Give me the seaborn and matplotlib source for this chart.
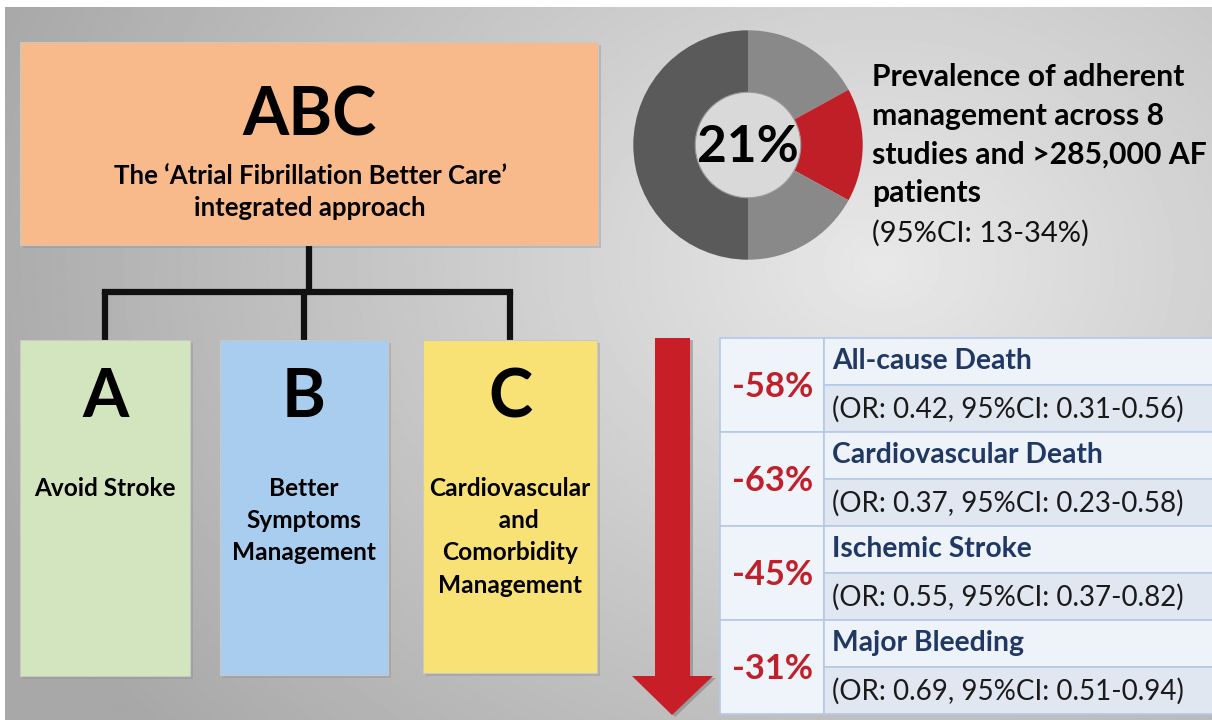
import numpy as np
import matplotlib.pyplot as plt
import matplotlib.patches as mpatches
import seaborn as sns

# ---- data ----
title_main = "ABC"
title_sub = ["The \u2018Atrial Fibrillation Better Care\u2019", "integrated approach"]

pillar_letters = ["A", "B", "C"]
pillar_texts = [["Avoid Stroke"],
                ["Better", "Symptoms", "Management"],
                ["Cardiovascular", "   and", "Comorbidity", "Management"]]
pillar_colors = ["#d3e5bf", "#a9cdee", "#f8e275"]

# donut segments clockwise from 12 o'clock (share of the ring as drawn)
donut_shares = [17, 16, 17, 50]
donut_colors = ["#898989", "#c01f27", "#898989", "#5a5a5a"]
adherent_pct = 21
prevalence_lines = ["Prevalence of adherent", "management across 8",
                    "studies and >285,000 AF", "patients"]
prevalence_ci = "(95%CI: 13-34%)"

outcomes = ["All-cause Death", "Cardiovascular Death", "Ischemic Stroke", "Major Bleeding"]
reductions = [-58, -63, -45, -31]
odds_ratio = [0.42, 0.37, 0.55, 0.69]
ci_low = [0.31, 0.23, 0.37, 0.51]
ci_high = [0.56, 0.58, 0.82, 0.94]

sns.set_theme(style="white")
plt.rcParams['font.family'] = ['Lato', 'DejaVu Sans']

W, H = 1212, 720
fig = plt.figure(figsize=(W / 100, H / 100), dpi=100, facecolor="white")
ax = fig.add_axes([0, 0, 1, 1])
ax.set_xlim(0, W)
ax.set_ylim(H, 0)
ax.axis("off")

# gray radial background
yy, xx = np.mgrid[0:H, 0:W]
d = np.sqrt(((xx - 880) / 900.0) ** 2 + ((yy - 260) / 700.0) ** 2)
shade = np.clip(0.91 - 0.24 * d, 0.66, 0.91)
ax.imshow(shade, cmap="gray", vmin=0, vmax=1, extent=(5, W, H, 7),
          aspect="auto", zorder=0, interpolation="bilinear")


def box(x, y, w, h, color, z=2):
    ax.add_patch(mpatches.Rectangle((x + 3, y + 3), w, h, facecolor="#8a8a8a",
                                    alpha=0.35, edgecolor="none", zorder=z - 1))
    ax.add_patch(mpatches.Rectangle((x, y), w, h, facecolor=color,
                                    edgecolor="#c8c8c8", lw=0.8, zorder=z))


# top ABC box
box(20, 42, 578, 203, "#f8b98b")
ax.text(309, 116, title_main, ha="center", va="center", fontsize=48,
        fontweight="bold", color="black", zorder=3)
for k, line in enumerate(title_sub):
    ax.text(310, 176 + k * 32, line, ha="center", va="center", fontsize=18.5,
            fontweight="bold", color="black", zorder=3)

# connectors
pillar_x = [20, 220, 423]
pillar_w = [170, 168, 174]
pillar_h = [336, 335, 333]
centers = [x + w / 2 for x, w in zip(pillar_x, pillar_w)]
lw = 4.5
ax.plot([309, 309], [245, 292], color="#111111", lw=lw, zorder=1.5)
ax.plot([centers[0], centers[2]], [292, 292], color="#111111", lw=lw,
        solid_capstyle="projecting", zorder=1.5)
for cx in centers:
    ax.plot([cx, cx], [292, 340], color="#111111", lw=lw, zorder=1.5)

# pillars
for x, w, h, c, letter, lines in zip(pillar_x, pillar_w, pillar_h, pillar_colors,
                                     pillar_letters, pillar_texts):
    box(x, 340, w, h, c)
    ax.text(x + w / 2, 398, letter, ha="center", va="center", fontsize=48,
            fontweight="bold", color="black", zorder=3)
    for k, line in enumerate(lines):
        ax.text(x + w / 2, 488 + k * 32.5, line, ha="center", va="center",
                fontsize=17.6, fontweight="bold", color="black", zorder=3)

# donut
dax = fig.add_axes([631 / W, 1 - 262 / H, 234 / W, 234 / H])
dax.pie(donut_shares, colors=donut_colors, startangle=90, counterclock=False,
        radius=1, wedgeprops=dict(width=0.55, edgecolor="none"))
dax.add_patch(mpatches.Circle((0, 0), 0.46, facecolor="#d9d9d9",
                              edgecolor="#9a9a9a", lw=0.8))
dax.text(0, -0.02, f"{adherent_pct}%", ha="center", va="center", fontsize=37,
         fontweight="bold", color="black")
dax.set_xlim(-1.02, 1.02)
dax.set_ylim(-1.02, 1.02)
dax.axis("off")

for i, line in enumerate(prevalence_lines):
    ax.text(872, 77 + i * 38.7, line, ha="left", va="center", fontsize=21.7,
            fontweight="bold", color="black", zorder=3)
ax.text(872, 233, prevalence_ci, ha="left", va="center", fontsize=21,
        color="#111111", zorder=3)

# red arrow
arrow_pts = [(655, 338), (690, 338), (690, 676), (713, 676), (672, 715),
             (632, 676), (655, 676)]
shadow = [(px + 3, py + 2) for px, py in arrow_pts]
ax.add_patch(mpatches.Polygon(shadow, closed=True, facecolor="#555555",
                              alpha=0.35, edgecolor="none", zorder=1.8))
ax.add_patch(mpatches.Polygon(arrow_pts, closed=True, facecolor="#c81e27",
                              edgecolor="none", zorder=2))

# results table
tx0, tx1, tx2 = 720, 824, W + 2
ty0, row_h = 338, 94
edge = "#b5c9e6"
for i in range(len(outcomes)):
    y0 = ty0 + i * row_h
    ax.add_patch(mpatches.Rectangle((tx0, y0), tx1 - tx0, row_h, facecolor="#eff3fa",
                                    edgecolor=edge, lw=1.2, zorder=2))
    ax.add_patch(mpatches.Rectangle((tx1, y0), tx2 - tx1, row_h / 2, facecolor="#eef2f9",
                                    edgecolor=edge, lw=1.2, zorder=2))
    ax.add_patch(mpatches.Rectangle((tx1, y0 + row_h / 2), tx2 - tx1, row_h / 2,
                                    facecolor="#e1e7f1", edgecolor=edge, lw=1.2, zorder=2))
    ax.text((tx0 + tx1) / 2 + 1, y0 + 49, f"{reductions[i]}%", ha="center", va="center",
            fontsize=24.8, fontweight="bold", color="#c0202a", zorder=3)
    ax.text(832, y0 + 23, outcomes[i], ha="left", va="center", fontsize=20.3,
            fontweight="bold", color="#1f3864", zorder=3)
    ax.text(832, y0 + 71,
            f"(OR: {odds_ratio[i]:.2f}, 95%CI: {ci_low[i]:.2f}-{ci_high[i]:.2f})",
            ha="left", va="center", fontsize=20, color="#1a1a1a", zorder=3)

fig.savefig("out.png", dpi=100, facecolor="white")
